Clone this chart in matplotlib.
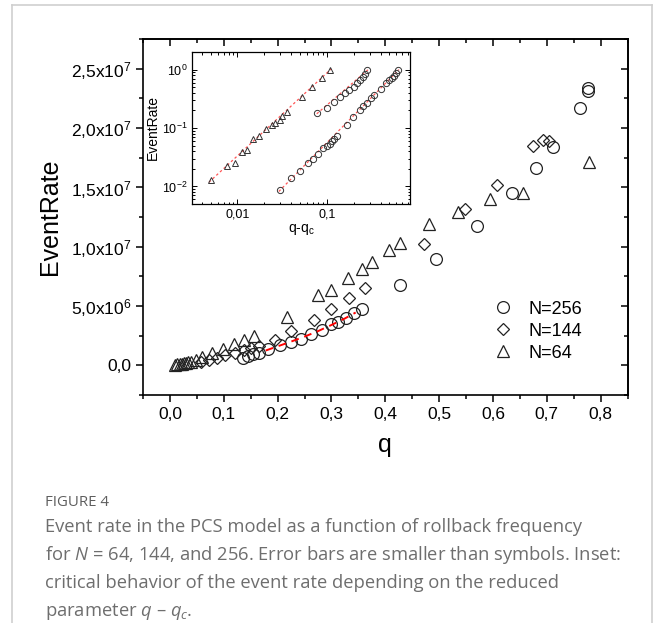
import numpy as np
import matplotlib
matplotlib.use('Agg')
import matplotlib.pyplot as plt
from matplotlib.lines import Line2D
from matplotlib.ticker import MultipleLocator, NullFormatter, LogLocator

plt.rcParams['font.family'] = ['Liberation Sans', 'DejaVu Sans']
plt.rcParams['mathtext.fontset'] = 'custom'
plt.rcParams['mathtext.rm'] = 'Liberation Sans'
plt.rcParams['mathtext.it'] = 'Open Sans:italic'

# main panel: event rate vs rollback frequency q
q_256 = [0.135, 0.145, 0.155, 0.165, 0.183, 0.204, 0.224, 0.243, 0.262, 0.282, 0.299,
         0.313, 0.327, 0.342, 0.357, 0.427, 0.495, 0.571, 0.636, 0.680, 0.712, 0.761,
         0.776, 0.777]
rate_256 = [0.65e6, 0.80e6, 0.92e6, 1.04e6, 1.35e6, 1.69e6, 1.96e6, 2.25e6, 2.67e6, 3.0e6,
            3.45e6, 3.65e6, 4.0e6, 4.4e6, 4.78e6, 6.78e6, 8.96e6, 1.175e7, 1.45e7, 1.66e7,
            1.84e7, 2.17e7, 2.316e7, 2.336e7]

q_144 = [0.057, 0.072, 0.088, 0.103, 0.121, 0.138, 0.150, 0.166, 0.196, 0.225, 0.268,
         0.300, 0.333, 0.362, 0.472, 0.549, 0.607, 0.674, 0.693, 0.704]
rate_144 = [0.28e6, 0.48e6, 0.65e6, 0.84e6, 1.04e6, 1.27e6, 1.42e6, 1.6e6, 2.17e6, 2.9e6,
            3.85e6, 4.75e6, 5.7e6, 6.5e6, 1.023e7, 1.32e7, 1.52e7, 1.845e7, 1.90e7, 1.887e7]

q_64 = [0.010, 0.014, 0.018, 0.022, 0.026, 0.030, 0.034, 0.040, 0.048, 0.060, 0.079,
        0.099, 0.119, 0.138, 0.156, 0.218, 0.276, 0.299, 0.330, 0.356, 0.376, 0.407,
        0.427, 0.482, 0.535, 0.594, 0.656, 0.778]
rate_64 = [0.05e6, 0.08e6, 0.11e6, 0.14e6, 0.17e6, 0.20e6, 0.24e6, 0.30e6, 0.45e6, 0.70e6,
           1.04e6, 1.40e6, 1.77e6, 2.17e6, 2.5e6, 4.07e6, 5.9e6, 6.38e6, 7.4e6, 8.15e6,
           8.7e6, 9.75e6, 1.03e7, 1.195e7, 1.294e7, 1.40e7, 1.45e7, 1.71e7]

# red dashed fit through the N=256 points
fit_q = [0.178, 0.200, 0.225, 0.250, 0.275, 0.300, 0.325, 0.345]
fit_rate = [1.25e6, 1.6e6, 2.0e6, 2.42e6, 2.88e6, 3.4e6, 3.95e6, 4.45e6]

labels = ['N=256', 'N=144', 'N=64']
x_ticks = [0.0, 0.1, 0.2, 0.3, 0.4, 0.5, 0.6, 0.7, 0.8]
x_ticklabels = ['0,0', '0,1', '0,2', '0,3', '0,4', '0,5', '0,6', '0,7', '0,8']
y_ticks = [0, 5e6, 1e7, 1.5e7, 2e7, 2.5e7]
y_ticklabels = ['0,0', r'5,0x10$^6$', r'1,0x10$^7$', r'1,5x10$^7$', r'2,0x10$^7$', r'2,5x10$^7$']

# inset: log-log vs reduced parameter q - qc
ins_x_64 = [0.0051, 0.0077, 0.0095, 0.0112, 0.0127, 0.0151, 0.0176, 0.0206, 0.0243,
            0.0264, 0.0298, 0.0316, 0.0362, 0.052, 0.069, 0.0886, 0.109]
ins_y_64 = [0.0129, 0.0223, 0.0248, 0.0386, 0.0428, 0.0651, 0.074, 0.098, 0.114,
            0.122, 0.138, 0.158, 0.19, 0.335, 0.507, 0.73, 1.0]
ins_x_144 = [0.0785, 0.100, 0.1216, 0.141, 0.160, 0.178, 0.199, 0.217, 0.236, 0.253,
             0.268, 0.284]
ins_y_144 = [0.179, 0.223, 0.276, 0.335, 0.392, 0.446, 0.507, 0.579, 0.659, 0.75,
             0.855, 0.973]
ins_x_256 = [0.0301, 0.0399, 0.0503, 0.0607, 0.0697, 0.0805, 0.0902, 0.100, 0.107,
             0.1137, 0.1207, 0.1294, 0.1675, 0.1955, 0.2317, 0.2566, 0.280, 0.310, 0.338,
             0.40, 0.46, 0.50, 0.53, 0.56, 0.59, 0.625]
ins_y_256 = [0.00865, 0.0137, 0.0182, 0.0255, 0.0298, 0.0352, 0.0458, 0.0488, 0.0542,
             0.0593, 0.0659, 0.0721, 0.1138, 0.1535, 0.204, 0.2388, 0.2716, 0.322, 0.366,
             0.47, 0.58, 0.66, 0.72, 0.78, 0.86, 0.97]
ins_fit_x = [[0.0048, 0.112], [0.077, 0.29], [0.029, 0.64]]
ins_fit_y = [[0.0118, 1.03], [0.175, 1.0], [0.0082, 1.0]]
ins_x_ticks = [0.01, 0.1]
ins_x_ticklabels = ['0,01', '0,1']
ins_y_ticks = [0.01, 0.1, 1.0]
ins_y_ticklabels = [r'10$^{-2}$', r'10$^{-1}$', r'10$^0$']

caption_title = 'FIGURE 4'
caption_lines = [
    'Event rate in the PCS model as a function of rollback frequency',
    r'for $N$ = 64, 144, and 256. Error bars are smaller than symbols. Inset:',
    'critical behavior of the event rate depending on the reduced',
    r'parameter $q$ – $q_c$.',
]

W, H = 656, 623
fig = plt.figure(figsize=(W / 100, H / 100), dpi=100)


def fx(px):
    return px / W


def fy(py):
    return 1 - py / H


# card border
for xs, ys in [([12, 12], [623, 4.5]), ([12, 651.5], [4.5, 4.5]), ([651.5, 651.5], [4.5, 623])]:
    fig.add_artist(Line2D([fx(v) for v in xs], [fy(v) for v in ys], color='#cfcfcf', lw=1.2))

ax = fig.add_axes([fx(143), fy(395), fx(627.5) - fx(143), fy(39) - fy(395)])
mk = dict(ls='none', mfc='none', mec='#222222', mew=0.9)
ax.plot(q_256, rate_256, marker='o', ms=8.5, label=labels[0], **mk)
ax.plot(q_144, rate_144, marker='D', ms=6.5, label=labels[1], **mk)
ax.plot(q_64, rate_64, marker='^', ms=9, label=labels[2], **mk)
ax.plot(fit_q, fit_rate, color='red', ls=(0, (4, 3)), lw=1.4)

ax.set_xlim(-0.05, 0.85)
ax.set_ylim(-2.5e6, 2.75e7)
ax.set_xticks(x_ticks, x_ticklabels)
ax.set_yticks(y_ticks, y_ticklabels)
ax.xaxis.set_minor_locator(MultipleLocator(0.05))
ax.yaxis.set_minor_locator(MultipleLocator(2.5e6))
ax.tick_params(which='both', direction='out', width=1.1, labelsize=12.5)
ax.tick_params(which='major', length=5)
ax.tick_params(which='minor', length=3)
for s in ax.spines.values():
    s.set_linewidth(1.2)

top = ax.secondary_xaxis('top')
top.set_xticks(x_ticks)
top.xaxis.set_minor_locator(MultipleLocator(0.05))
top.xaxis.set_major_formatter(NullFormatter())
top.tick_params(which='both', direction='in', width=1.1)
top.tick_params(which='major', length=5)
top.tick_params(which='minor', length=3)
top.spines['top'].set_linewidth(1.2)
right = ax.secondary_yaxis('right')
right.set_yticks(y_ticks)
right.yaxis.set_minor_locator(MultipleLocator(2.5e6))
right.yaxis.set_major_formatter(NullFormatter())
right.tick_params(which='both', direction='in', width=1.1)
right.tick_params(which='major', length=5)
right.tick_params(which='minor', length=3)
right.spines['right'].set_linewidth(1.2)

ax.set_xlabel('q', fontsize=18, labelpad=8)
ax.set_ylabel('EventRate', fontsize=18, labelpad=6)

ax.legend(loc='upper left', bbox_to_anchor=(0.724, 0.265), frameon=False, fontsize=13,
          handlelength=1.0, handletextpad=0.9, labelspacing=0.28, borderpad=0,
          borderaxespad=0)

# inset
ins = fig.add_axes([fx(192), fy(204), fx(410) - fx(192), fy(52) - fy(204)])
ins.set_xscale('log')
ins.set_yscale('log')
imk = dict(ls='none', mfc='none', mec='#333333', mew=0.7)
ins.plot(ins_x_64, ins_y_64, marker='^', ms=5, **imk)
ins.plot(ins_x_144, ins_y_144, marker='o', ms=4.5, **imk)
ins.plot(ins_x_256, ins_y_256, marker='o', ms=4.5, **imk)
for xs, ys in zip(ins_fit_x, ins_fit_y):
    ins.plot(xs, ys, color='#ff5555', ls=(0, (2, 2)), lw=0.9, zorder=1)
ins.set_xlim(0.0031, 0.85)
ins.set_ylim(0.005, 2.0)
ins.set_xticks(ins_x_ticks, ins_x_ticklabels)
ins.set_yticks(ins_y_ticks, ins_y_ticklabels)
ins.xaxis.set_minor_locator(LogLocator(base=10, subs=np.arange(2, 10)))
ins.yaxis.set_minor_locator(LogLocator(base=10, subs=np.arange(2, 10)))
ins.xaxis.set_minor_formatter(NullFormatter())
ins.yaxis.set_minor_formatter(NullFormatter())
ins.tick_params(which='both', direction='in', top=True, right=True, labelsize=9, width=0.7)
ins.tick_params(which='major', length=3.5, pad=3)
ins.tick_params(which='minor', length=1.8)
for s in ins.spines.values():
    s.set_linewidth(0.9)
ins.set_xlabel(r'q-q$_\mathrm{c}$', fontsize=10, labelpad=1)
ins.set_ylabel('EventRate', fontsize=10, labelpad=2)

# caption
fig.text(fx(45), fy(502), caption_title, fontsize=10.8, color='#5e5e5e', fontfamily='Open Sans',
         fontweight='medium', va='center', ha='left')
for i, line in enumerate(caption_lines):
    fig.text(fx(45), fy(527 + 28 * i), line, fontsize=13.2, color='#6e6e6e',
             fontfamily='Open Sans', va='center', ha='left')

fig.savefig('out.png', dpi=100)
